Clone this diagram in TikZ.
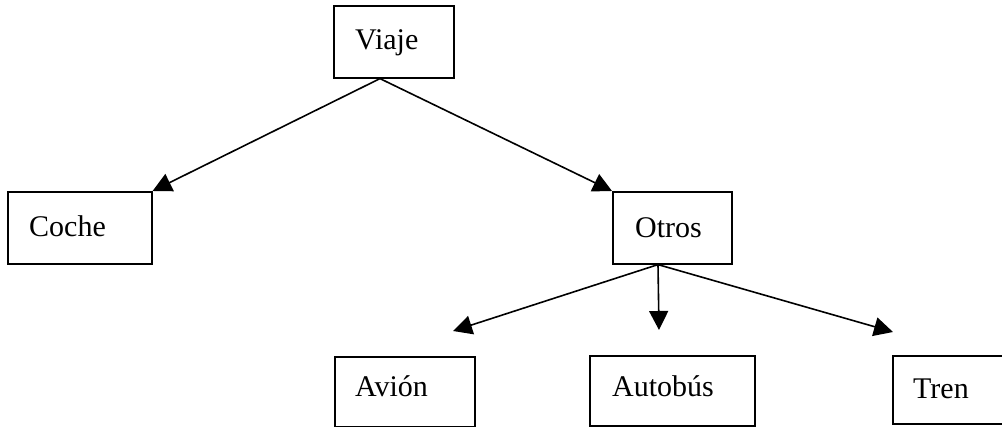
\documentclass[tikz,border=0pt]{standalone}
\usepackage{fontspec}
\setmainfont{Liberation Serif}
\usetikzlibrary{arrows.meta,calc}
\begin{document}
\begin{tikzpicture}[x=1pt,y=-1pt,
  box/.style={draw,line width=1.6pt,anchor=north west,inner sep=0pt},
  txt/.style={anchor=base west,inner sep=0pt,font=\fontsize{30}{36}\selectfont},
  arr/.style={line width=1.6pt,-{Triangle[length=19pt,width=19pt]}}]
\clip (0,0) rectangle (1002,427);
\useasboundingbox (0,0) rectangle (1002,427);
% boxes
\node[box,minimum width=120pt,minimum height=72pt] (viaje) at (333,5) {};
\node[box,minimum width=144pt,minimum height=72pt] (coche) at (7,191) {};
\node[box,minimum width=119pt,minimum height=72pt] (otros) at (612,191) {};
\node[box,minimum width=140pt,minimum height=70pt] (avion) at (334,356) {};
\node[box,minimum width=165pt,minimum height=70pt] (autobus) at (589,355) {};
\node[box,minimum width=130pt,minimum height=68pt] (tren) at (892,355) {};
% labels
\node[txt] (tviaje) at ($(viaje.north west)+(22,45)$) {Viaje};
\node[txt] (tcoche) at ($(coche.north west)+(22,46)$) {Coche};
\node[txt] (totros) at ($(otros.north west)+(23,47)$) {Otros};
\node[txt] (tavion) at ($(avion.north west)+(21,41)$) {Avión};
\node[txt] (tautobus) at ($(autobus.north west)+(23,42)$) {Autobús};
\node[txt] (ttren) at ($(tren.north west)+(21,44)$) {Tren};
% connector ends
\coordinate (s1) at ($(viaje.south west)+(47,0)$);
\coordinate (s2) at ($(otros.south west)+(46,0)$);
\coordinate (e1) at ($(avion.north west)+(119,-25)$);
\coordinate (e2) at ($(autobus.north west)+(70,-25)$);
\coordinate (e3) at ($(tren.north west)+(1,-23)$);
% connectors
\draw[arr] (s1) -- (coche.north east);
\draw[arr] (s1) -- (otros.north west);
\draw[arr] (s2) -- (e1);
\draw[arr] (s2) -- (e2);
\draw[arr] (s2) -- (e3);
\end{tikzpicture}
\end{document}
